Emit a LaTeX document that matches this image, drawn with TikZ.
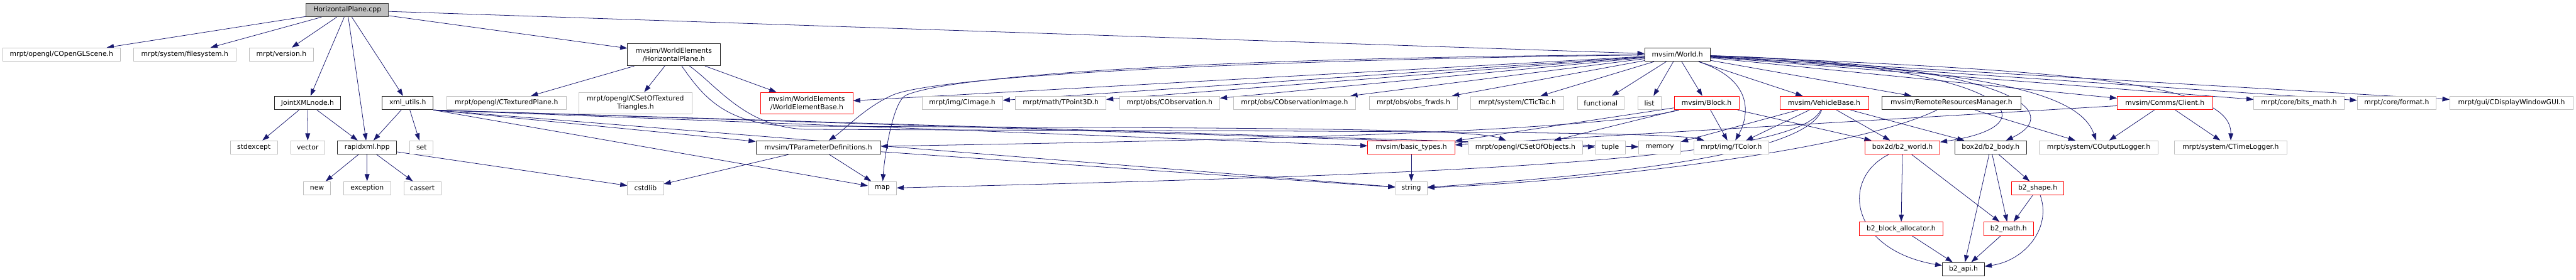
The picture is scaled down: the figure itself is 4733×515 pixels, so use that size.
\documentclass[tikz,border=0pt]{standalone}
\usepackage{fontspec}
\setmainfont{DejaVu Sans}
\usetikzlibrary{arrows.meta}
\definecolor{edgeblue}{HTML}{191970}
\definecolor{boxgray}{HTML}{BFBFBF}
\definecolor{boxred}{HTML}{FF0000}
\pgfdeclarelayer{edges}
\pgfsetlayers{edges,main}
\begin{document}
\begin{tikzpicture}[x=1pt, y=-1pt,
    box/.style={draw, fill=white, line width=1pt, inner sep=0pt, minimum height=25pt,
      font=\fontsize{12.5}{15}\selectfont, align=center},
    wd/.style={minimum width=#1pt},
    rootbox/.style={box, draw=black!75, fill=boxgray},
    filebox/.style={box, draw=black!85},
    extbox/.style={box, draw=boxgray},
    cutbox/.style={box, draw=boxred},
    dep/.style={draw=edgeblue, line width=0.9pt, -{Triangle[length=13pt,width=9pt]}}
  ]
  \useasboundingbox (0,0) rectangle (4733,515);
  \node[rootbox, wd=152] (cpp) at (638,18.5) {HorizontalPlane.cpp};
  \node[extbox, wd=216] (scene) at (113,100.5) {mrpt/opengl/COpenGLScene.h};
  \node[extbox, wd=189] (fsys) at (339.5,100.5) {mrpt/system/filesystem.h};
  \node[extbox, wd=118] (version) at (517,100.5) {mrpt/version.h};
  \node[filebox, wd=170, minimum height=41pt] (hplane) at (1238,100.5) {mvsim/WorldElements\\/HorizontalPlane.h};
  \node[filebox, wd=120] (world) at (3082,100.5) {mvsim/World.h};
  \node[filebox, wd=122] (jxml) at (565,189.5) {JointXMLnode.h};
  \node[filebox, wd=94] (xmlutils) at (749,189.5) {xml\_utils.h};
  \node[extbox, wd=219] (texplane) at (930.5,189.5) {mrpt/opengl/CTexturedPlane.h};
  \node[extbox, wd=207, minimum height=40pt] (textri) at (1167.5,190) {mrpt/opengl/CSetOfTextured\\Triangles.h};
  \node[cutbox, wd=169, minimum height=40pt] (elembase) at (1482.5,190) {mvsim/WorldElements\\/WorldElementBase.h};
  \node[extbox, wd=148] (cimage) at (1768,189.5) {mrpt/img/CImage.h};
  \node[extbox, wd=166] (tpoint) at (1949,189.5) {mrpt/math/TPoint3D.h};
  \node[extbox, wd=184] (cobs) at (2149,189.5) {mrpt/obs/CObservation.h};
  \node[extbox, wd=225] (cobsimg) at (2378.5,189.5) {mrpt/obs/CObservationImage.h};
  \node[extbox, wd=162] (obsfrwds) at (2597,189.5) {mrpt/obs/obs\_frwds.h};
  \node[extbox, wd=171] (tictac) at (2787.5,189.5) {mrpt/system/CTicTac.h};
  \node[extbox, wd=86] (functional) at (2941,189.5) {functional};
  \node[extbox, wd=43] (list) at (3030.5,189.5) {list};
  \node[cutbox, wd=119] (block) at (3135.5,189.5) {mvsim/Block.h};
  \node[cutbox, wd=163] (vehicle) at (3351.5,189.5) {mvsim/VehicleBase.h};
  \node[filebox, wd=255] (remote) at (3585.5,189.5) {mvsim/RemoteResourcesManager.h};
  \node[cutbox, wd=175] (client) at (3977.5,189.5) {mvsim/Comms/Client.h};
  \node[extbox, wd=166] (bitsmath) at (4224,189.5) {mrpt/core/bits\_math.h};
  \node[extbox, wd=145] (format) at (4403.5,189.5) {mrpt/core/format.h};
  \node[extbox, wd=227] (gui) at (4614.5,189.5) {mrpt/gui/CDisplayWindowGUI.h};
  \node[extbox, wd=87] (stdexcept) at (466.5,271.5) {stdexcept};
  \node[extbox, wd=63] (vector) at (565.5,271.5) {vector};
  \node[filebox, wd=109] (rapidxml) at (674.5,271.5) {rapidxml.hpp};
  \node[extbox, wd=43] (set) at (774.5,271.5) {set};
  \node[filebox, wd=229] (params) at (1503.5,271.5) {mvsim/TParameterDefinitions.h};
  \node[cutbox, wd=160] (basictypes) at (2593,271.5) {mvsim/basic\_types.h};
  \node[extbox, wd=211] (setobj) at (2802.5,271.5) {mrpt/opengl/CSetOfObjects.h};
  \node[extbox, wd=55] (tuple) at (2958.5,271.5) {tuple};
  \node[extbox, wd=77] (memory) at (3049.5,271.5) {memory};
  \node[extbox, wd=138] (tcolor) at (3181,271.5) {mrpt/img/TColor.h};
  \node[cutbox, wd=137] (b2world) at (3495.5,271.5) {box2d/b2\_world.h};
  \node[filebox, wd=131] (b2body) at (3657.5,271.5) {box2d/b2\_body.h};
  \node[extbox, wd=218] (outlog) at (3856,271.5) {mrpt/system/COutputLogger.h};
  \node[extbox, wd=207] (timelog) at (4098.5,271.5) {mrpt/system/CTimeLogger.h};
  \node[extbox, wd=49] (new) at (582.5,346.5) {new};
  \node[extbox, wd=87] (exception) at (674.5,346.5) {exception};
  \node[extbox, wd=68] (cassert) at (776,346.5) {cassert};
  \node[extbox, wd=66] (cstdlib) at (1186,346.5) {cstdlib};
  \node[extbox, wd=52] (map) at (1621,346.5) {map};
  \node[extbox, wd=58] (string) at (2593,346.5) {string};
  \node[cutbox, wd=96] (b2shape) at (3744,346.5) {b2\_shape.h};
  \node[cutbox, wd=154] (b2alloc) at (3493,421) {b2\_block\_allocator.h};
  \node[cutbox, wd=91] (b2math) at (3690.5,421) {b2\_math.h};
  \node[filebox, wd=77] (b2api) at (3607.5,495.5) {b2\_api.h};
  \begin{pgfonlayer}{edges}
  \draw[dep] (cpp) -- (scene);
  \draw[dep] (cpp) -- (fsys);
  \draw[dep] (cpp) -- (version);
  \draw[dep] (cpp) -- (jxml);
  \draw[dep] (cpp) -- (rapidxml);
  \draw[dep] (cpp) -- (xmlutils);
  \draw[dep] (cpp) -- (hplane);
  \draw[dep] (cpp) -- (world);
  \draw[dep] (hplane) -- (texplane);
  \draw[dep] (hplane) -- (textri);
  \draw[dep] (hplane) -- (elembase);
  \draw[dep] (hplane) .. controls (1290,175) and (1330,228) .. (1450,232)
    .. controls (2200,236) and (2700,234) .. (setobj);
  \draw[dep] (hplane) .. controls (1320,160) and (1370,234) .. (1480,238)
    .. controls (2300,242) and (3060,240) .. (tcolor);
  \draw[dep] (jxml) -- (stdexcept);
  \draw[dep] (jxml) -- (vector);
  \draw[dep] (jxml) -- (rapidxml);
  \draw[dep] (xmlutils) -- (rapidxml);
  \draw[dep] (xmlutils) -- (set);
  \draw[dep] (xmlutils.south east) -- (params);
  \draw[dep] (xmlutils.south east) -- (map);
  \draw[dep] (xmlutils.south east) -- (basictypes);
  \draw[dep] (xmlutils.south east) -- (tuple);
  \draw[dep] (xmlutils.south east) -- (memory);
  \draw[dep] (xmlutils.south east) -- (string);
  \draw[dep] (rapidxml) -- (new);
  \draw[dep] (rapidxml) -- (exception);
  \draw[dep] (rapidxml) -- (cassert);
  \draw[dep] (rapidxml) -- (cstdlib);
  \draw[dep] (params) -- (cstdlib);
  \draw[dep] (params) -- (map);
  \draw[dep] (params) -- (string);
  \draw[dep] (basictypes) -- (string);
  \draw[dep] (world) -- (elembase);
  \draw[dep] (world) .. controls (2300,110) and (1720,140) .. (1640,175)
    .. controls (1590,197) and (1550,240) .. (params);
  \draw[dep] (world) .. controls (2300,105) and (1760,135) .. (1665,175)
    .. controls (1640,186) and (1625,290) .. (map);
  \draw[dep] (world) -- (cimage);
  \draw[dep] (world) -- (tpoint);
  \draw[dep] (world) -- (cobs);
  \draw[dep] (world) -- (cobsimg);
  \draw[dep] (world) -- (obsfrwds);
  \draw[dep] (world) -- (tictac);
  \draw[dep] (world) -- (functional);
  \draw[dep] (world) -- (list);
  \draw[dep] (world) -- (block);
  \draw[dep] (world) -- (vehicle);
  \draw[dep] (world) -- (remote);
  \draw[dep] (world) -- (client);
  \draw[dep] (world) -- (bitsmath);
  \draw[dep] (world) -- (format);
  \draw[dep] (world) -- (gui);
  \draw[dep] (world) .. controls (3230,150) and (3210,220) .. (tcolor);
  \draw[dep] (world) .. controls (3700,120) and (3780,230) .. (b2world);
  \draw[dep] (world) .. controls (3720,120) and (3790,210) .. (b2body);
  \draw[dep] (world) .. controls (3650,130) and (3820,170) .. (outlog);
  \draw[dep] (world) .. controls (3800,130) and (4100,150) .. (timelog);
  \draw[dep] (block) -- (setobj);
  \draw[dep] (block) -- (basictypes);
  \draw[dep] (block) -- (tcolor);
  \draw[dep] (block) -- (b2world);
  \draw[dep] (block) .. controls (2900,250) and (2000,262) .. (params);
  \draw[dep] (vehicle) -- (tcolor);
  \draw[dep] (vehicle) -- (b2world);
  \draw[dep] (vehicle) -- (b2body);
  \draw[dep] (vehicle) -- (memory);
  \draw[dep] (vehicle) .. controls (3320,280) and (3000,320) .. (string);
  \draw[dep] (vehicle) .. controls (3300,300) and (2600,322) .. (map);
  \draw[dep] (remote) -- (outlog);
  \draw[dep] (remote) .. controls (3400,280) and (2900,335) .. (string);
  \draw[dep] (client) -- (outlog);
  \draw[dep] (client) -- (timelog);
  \draw[dep] (client) -- (basictypes);
  \draw[dep] (b2world) -- (b2alloc);
  \draw[dep] (b2world) -- (b2math);
  \draw[dep] (b2world) .. controls (3380,330) and (3400,460) .. (b2api);
  \draw[dep] (b2body) -- (b2shape);
  \draw[dep] (b2body) -- (b2math);
  \draw[dep] (b2body) -- (b2api);
  \draw[dep] (b2shape) -- (b2math);
  \draw[dep] (b2shape) .. controls (3770,420) and (3720,480) .. (b2api);
  \draw[dep] (b2alloc) -- (b2api);
  \draw[dep] (b2math) -- (b2api);
  \end{pgfonlayer}
\end{tikzpicture}
\end{document}
